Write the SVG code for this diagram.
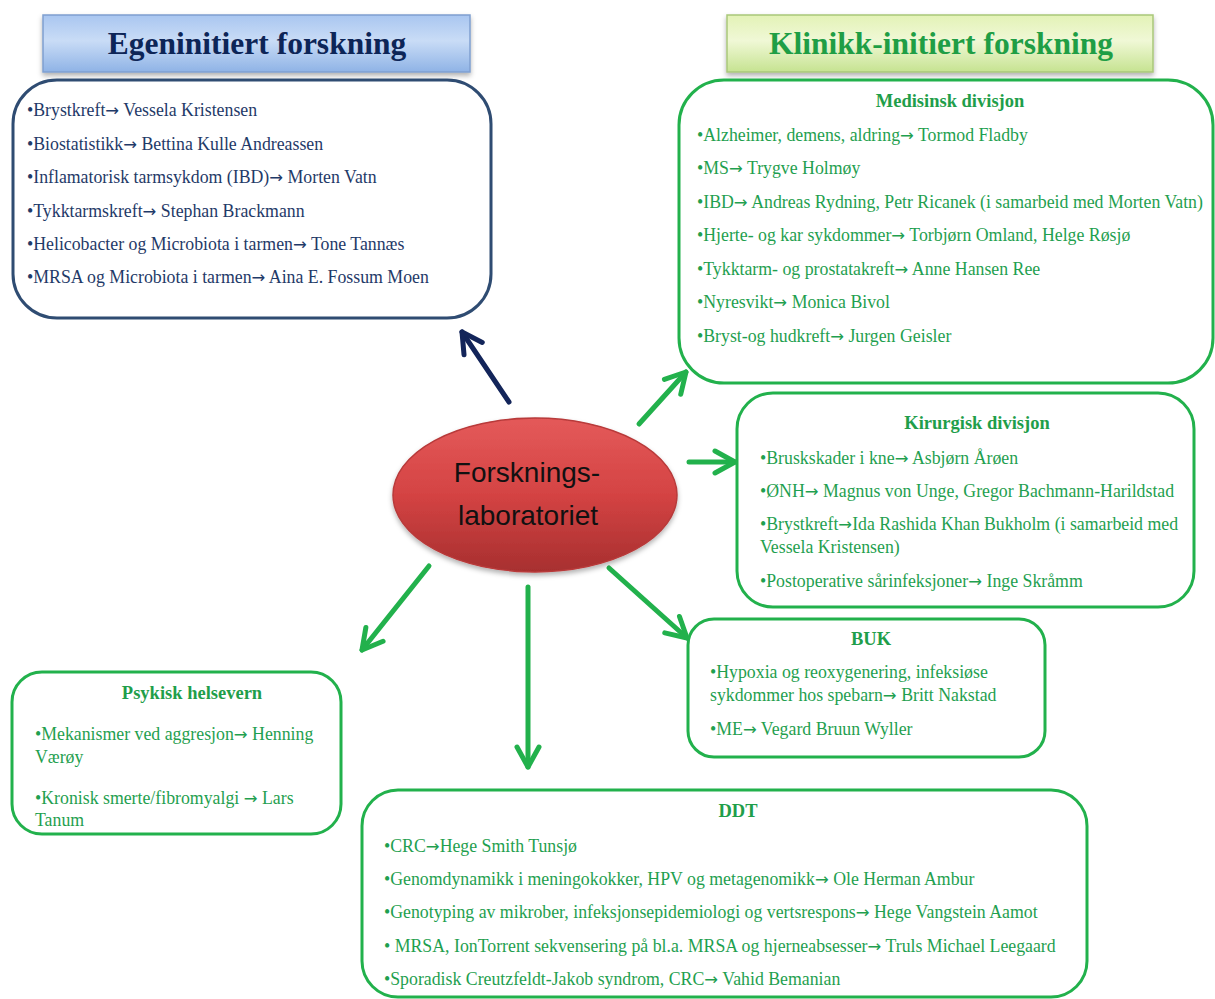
<svg xmlns="http://www.w3.org/2000/svg" width="1215" height="999" viewBox="0 0 1215 999">
  <style>
    .body { font-family: "Liberation Serif", "Times New Roman", serif; font-size: 17.8px; }
    .arr { font-family: "DejaVu Sans", sans-serif; font-size: 16.5px; }
    .navy { fill: #1f3a68; }
    .green { fill: #1fa04f; }
    .sub { font-family: "Liberation Serif", "Times New Roman", serif; font-size: 18.5px; font-weight: bold; fill: #1f9e4a; text-anchor: middle; }
    .head { font-family: "Liberation Serif", "Times New Roman", serif; font-size: 31.5px; font-weight: bold; text-anchor: middle; }
    .box-navy { fill: #ffffff; stroke: #2f4c72; stroke-width: 3; }
    .box-green { fill: #ffffff; stroke: #22b14c; stroke-width: 3; }
    .conn { fill: none; stroke-width: 5; stroke-linecap: round; }
    .conn-green { stroke: #22b14c; }
    .conn-navy { stroke: #13255a; }
    .center-label { font-family: "Liberation Sans", Arial, sans-serif; font-size: 28px; fill: #111111; text-anchor: middle; }
  </style>
  <defs>
    <linearGradient id="gradBlue" x1="0" y1="0" x2="0" y2="1">
      <stop offset="0" stop-color="#a9c6f0"/>
      <stop offset="0.45" stop-color="#c9dcf6"/>
      <stop offset="1" stop-color="#8fb3e6"/>
    </linearGradient>
    <linearGradient id="gradGreen" x1="0" y1="0" x2="0" y2="1">
      <stop offset="0" stop-color="#e3f2b6"/>
      <stop offset="0.45" stop-color="#f0f8d6"/>
      <stop offset="1" stop-color="#c6e391"/>
    </linearGradient>
    <linearGradient id="gradRed" x1="0" y1="0" x2="0" y2="1">
      <stop offset="0" stop-color="#e45a5a"/>
      <stop offset="0.5" stop-color="#d44343"/>
      <stop offset="1" stop-color="#a72f2f"/>
    </linearGradient>
    <filter id="shadow" x="-10%" y="-20%" width="120%" height="150%">
      <feDropShadow dx="0" dy="3" stdDeviation="2.5" flood-color="#000000" flood-opacity="0.3"/>
    </filter>
    <marker id="headGreen" markerUnits="userSpaceOnUse" viewBox="-24 -14 28 28" refX="0" refY="0" markerWidth="28" markerHeight="28" orient="auto">
      <path d="M-20,-11 L0,0 L-20,11" fill="none" stroke="#22b14c" stroke-width="5" stroke-linecap="round" stroke-linejoin="round"/>
    </marker>
    <marker id="headNavy" markerUnits="userSpaceOnUse" viewBox="-24 -14 28 28" refX="0" refY="0" markerWidth="28" markerHeight="28" orient="auto">
      <path d="M-20,-11 L0,0 L-20,11" fill="none" stroke="#13255a" stroke-width="5" stroke-linecap="round" stroke-linejoin="round"/>
    </marker>
  </defs>

  <rect width="1215" height="999" fill="#ffffff"/>

  <!-- Section headers -->
  <g id="header-egeninitiert">
    <rect x="43" y="15" width="427" height="57" fill="url(#gradBlue)" stroke="#7f9fd0" stroke-width="1.5" filter="url(#shadow)"/>
    <text class="head" x="257" y="54" fill="#0d2557">Egeninitiert forskning</text>
  </g>
  <g id="header-klinikk">
    <rect x="727" y="15" width="426" height="57" fill="url(#gradGreen)" stroke="#a9c77a" stroke-width="1.5" filter="url(#shadow)"/>
    <text class="head" x="941" y="54" fill="#1f9e45">Klinikk-initiert forskning</text>
  </g>

  <!-- Connectors from the central node -->
  <g id="connectors">
    <line class="conn conn-navy" x1="509" y1="402" x2="462" y2="332" marker-end="url(#headNavy)"/>
    <line class="conn conn-green" x1="639" y1="424" x2="686" y2="372" marker-end="url(#headGreen)"/>
    <line class="conn conn-green" x1="689" y1="462" x2="735" y2="462" marker-end="url(#headGreen)"/>
    <line class="conn conn-green" x1="609" y1="568" x2="687" y2="638" marker-end="url(#headGreen)"/>
    <line class="conn conn-green" x1="429" y1="566" x2="362" y2="650" marker-end="url(#headGreen)"/>
    <line class="conn conn-green" x1="528" y1="587" x2="528" y2="767" marker-end="url(#headGreen)"/>
  </g>

  <!-- Central node -->
  <g id="forskningslaboratoriet">
    <ellipse cx="535" cy="495" rx="142" ry="77" fill="url(#gradRed)" stroke="#b83a3a" stroke-width="1.5" filter="url(#shadow)"/>
    <text class="center-label" x="527" y="482">Forsknings-</text>
    <text class="center-label" x="528" y="525">laboratoriet</text>
  </g>

  <!-- Egeninitiert forskning -->
  <g id="egeninitiert">
    <rect class="box-navy" x="13" y="80" width="478" height="238" rx="44" ry="44"/>
    <g class="body navy">
      <text x="27" y="116">•Brystkreft<tspan class="arr">→</tspan> Vessela Kristensen</text>
      <text x="27" y="150">•Biostatistikk<tspan class="arr">→</tspan> Bettina Kulle Andreassen</text>
      <text x="27" y="183">•Inflamatorisk tarmsykdom (IBD)<tspan class="arr">→</tspan> Morten Vatn</text>
      <text x="27" y="217">•Tykktarmskreft<tspan class="arr">→</tspan> Stephan Brackmann</text>
      <text x="27" y="250">•Helicobacter og Microbiota i tarmen<tspan class="arr">→</tspan> Tone Tannæs</text>
      <text x="27" y="283">•MRSA og Microbiota i tarmen<tspan class="arr">→</tspan> Aina E. Fossum Moen</text>
    </g>
  </g>

  <!-- Medisinsk divisjon -->
  <g id="medisinsk-divisjon">
    <rect class="box-green" x="679" y="80" width="534" height="303" rx="45" ry="45"/>
    <text class="sub" x="950" y="107">Medisinsk divisjon</text>
    <g class="body green">
      <text x="697" y="141">•Alzheimer, demens, aldring<tspan class="arr">→</tspan> Tormod Fladby</text>
      <text x="697" y="174">•MS<tspan class="arr">→</tspan> Trygve Holmøy</text>
      <text x="697" y="208">•IBD<tspan class="arr">→</tspan> Andreas Rydning, Petr Ricanek (i samarbeid med Morten Vatn)</text>
      <text x="697" y="241">•Hjerte- og kar sykdommer<tspan class="arr">→</tspan> Torbjørn Omland, Helge Røsjø</text>
      <text x="697" y="275">•Tykktarm- og prostatakreft<tspan class="arr">→</tspan> Anne Hansen Ree</text>
      <text x="697" y="308">•Nyresvikt<tspan class="arr">→</tspan> Monica Bivol</text>
      <text x="697" y="342">•Bryst-og hudkreft<tspan class="arr">→</tspan> Jurgen Geisler</text>
    </g>
  </g>

  <!-- Kirurgisk divisjon -->
  <g id="kirurgisk-divisjon">
    <rect class="box-green" x="737" y="393" width="457" height="214" rx="36" ry="36"/>
    <text class="sub" x="977" y="429">Kirurgisk divisjon</text>
    <g class="body green">
      <text x="760" y="464">•Bruskskader i kne<tspan class="arr">→</tspan> Asbjørn Årøen</text>
      <text x="760" y="497">•ØNH<tspan class="arr">→</tspan> Magnus von Unge, Gregor Bachmann-Harildstad</text>
      <text x="760" y="530">•Brystkreft<tspan class="arr">→</tspan>Ida Rashida Khan Bukholm (i samarbeid med</text>
      <text x="760" y="553">Vessela Kristensen)</text>
      <text x="760" y="587">•Postoperative sårinfeksjoner<tspan class="arr">→</tspan> Inge Skråmm</text>
    </g>
  </g>

  <!-- BUK -->
  <g id="buk">
    <rect class="box-green" x="688" y="619" width="357" height="138" rx="26" ry="26"/>
    <text class="sub" x="871" y="645">BUK</text>
    <g class="body green">
      <text x="710" y="678">•Hypoxia og reoxygenering, infeksiøse</text>
      <text x="710" y="701">sykdommer hos spebarn<tspan class="arr">→</tspan> Britt Nakstad</text>
      <text x="710" y="735">•ME<tspan class="arr">→</tspan> Vegard Bruun Wyller</text>
    </g>
  </g>

  <!-- Psykisk helsevern -->
  <g id="psykisk-helsevern">
    <rect class="box-green" x="12" y="672" width="329" height="162" rx="30" ry="30"/>
    <text class="sub" x="192" y="699">Psykisk helsevern</text>
    <g class="body green">
      <text x="35" y="740">•Mekanismer ved aggresjon<tspan class="arr">→</tspan> Henning</text>
      <text x="35" y="763">Værøy</text>
      <text x="35" y="804">•Kronisk smerte/fibromyalgi <tspan class="arr">→</tspan> Lars</text>
      <text x="35" y="826">Tanum</text>
    </g>
  </g>

  <!-- DDT -->
  <g id="ddt">
    <rect class="box-green" x="362" y="790" width="725" height="207" rx="36" ry="36"/>
    <text class="sub" x="738" y="817">DDT</text>
    <g class="body green">
      <text x="384" y="852">•CRC<tspan class="arr">→</tspan>Hege Smith Tunsjø</text>
      <text x="384" y="885">•Genomdynamikk i meningokokker, HPV og metagenomikk<tspan class="arr">→</tspan> Ole Herman Ambur</text>
      <text x="384" y="918">•Genotyping av mikrober, infeksjonsepidemiologi og vertsrespons<tspan class="arr">→</tspan> Hege Vangstein Aamot</text>
      <text x="384" y="952">• MRSA, IonTorrent sekvensering på bl.a. MRSA og hjerneabsesser<tspan class="arr">→</tspan> Truls Michael Leegaard</text>
      <text x="384" y="985">•Sporadisk Creutzfeldt-Jakob syndrom, CRC<tspan class="arr">→</tspan> Vahid Bemanian</text>
    </g>
  </g>
</svg>
